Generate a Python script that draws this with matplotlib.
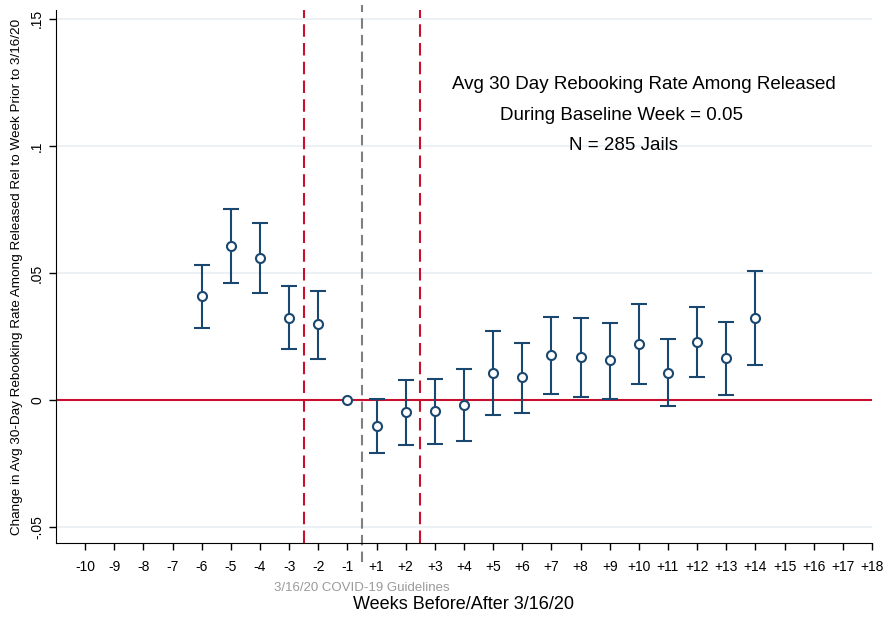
import numpy as np
import matplotlib
matplotlib.use("Agg")
import matplotlib.pyplot as plt

plt.rcParams['font.family'] = ['Liberation Sans', 'DejaVu Sans']

# Event-study estimates (week relative to 3/16/20)
weeks = ["-10", "-9", "-8", "-7", "-6", "-5", "-4", "-3", "-2", "-1",
         "+1", "+2", "+3", "+4", "+5", "+6", "+7", "+8", "+9", "+10",
         "+11", "+12", "+13", "+14", "+15", "+16", "+17", "+18"]
est_weeks = ["-6", "-5", "-4", "-3", "-2", "-1",
             "+1", "+2", "+3", "+4", "+5", "+6", "+7", "+8", "+9", "+10",
             "+11", "+12", "+13", "+14"]
coef = [0.0409, 0.0606, 0.0559, 0.0322, 0.0297, 0.0,
        -0.0102, -0.0047, -0.0043, -0.0020, 0.0108, 0.0089, 0.0175, 0.0169,
        0.0156, 0.0220, 0.0107, 0.0228, 0.0165, 0.0323]
ci_low = [0.0283, 0.0461, 0.0421, 0.0201, 0.0163, 0.0,
          -0.0207, -0.0179, -0.0173, -0.0162, -0.0059, -0.0053, 0.0022, 0.0013,
          0.0004, 0.0062, -0.0024, 0.0092, 0.0020, 0.0138]
ci_high = [0.0533, 0.0752, 0.0697, 0.0448, 0.0430, 0.0,
           0.0002, 0.0080, 0.0084, 0.0120, 0.0273, 0.0226, 0.0326, 0.0322,
           0.0302, 0.0378, 0.0238, 0.0364, 0.0305, 0.0508]

yticks = [-0.05, 0, 0.05, 0.1, 0.15]
ytick_labels = ["-.05", "0", ".05", ".1", ".15"]

NAVY = "#1a476f"
RED = "#c8102e"
GRID = "#e8eff2"

fig = plt.figure(figsize=(8.86, 6.22), dpi=100)
ax = fig.add_axes([0.0632, 0.127, 0.921, 0.857])

pos = np.array([weeks.index(w) for w in est_weeks])
coef = np.array(coef)
err = np.array([coef - np.array(ci_low), np.array(ci_high) - coef])
has_ci = err.sum(axis=0) > 0

ymin, ymax = -0.0563, 0.1535

for y in yticks:
    if y != 0:
        ax.axhline(y, color=GRID, lw=1.2, zorder=0)

ax.axhline(0, color=RED, lw=1.5, zorder=1)
covid_x = weeks.index("-1") + 0.5
# guideline line runs down past the axis into the tick label area
ax.plot([covid_x, covid_x], [-0.0637, 0.1555], color="#7f7f7f", lw=1.5,
        ls=(0, (5, 3)), zorder=1, clip_on=False)
ax.axvline(weeks.index("-3") + 0.5, color=RED, lw=1.5, ls=(0, (6, 3)), zorder=1)
ax.axvline(weeks.index("+2") + 0.5, color=RED, lw=1.5, ls=(0, (6, 3)), zorder=1)

ax.errorbar(pos[has_ci], coef[has_ci], yerr=err[:, has_ci], fmt="none",
            ecolor=NAVY, elinewidth=1.5, capsize=5.5, capthick=1.5, zorder=3)
ax.plot(pos, coef, "o", ms=6.5, mfc="white", mec=NAVY, mew=1.5, zorder=4)

ax.set_xlim(-1, 27)
ax.set_ylim(ymin, ymax)
ax.set_xticks(range(len(weeks)))
ax.set_xticklabels(weeks, fontsize=10)
ax.set_yticks(yticks)
ax.set_yticklabels(ytick_labels, fontsize=10, rotation=90, va="center")
ax.tick_params(axis="both", length=5, width=1, color="black")
ax.tick_params(axis="x", pad=7)
for s in ["top", "right"]:
    ax.spines[s].set_visible(False)

ax.set_ylabel("Change in Avg 30-Day Rebooking Rate Among Released Rel to Week Prior to 3/16/20",
              fontsize=9.7, labelpad=5)
ax.set_xlabel("Weeks Before/After 3/16/20", fontsize=13, labelpad=16)
ax.text(covid_x, -0.0742, "3/16/20 COVID-19 Guidelines", color="#9a9a9a",
        fontsize=9.5, ha="center", va="center")

ax.text(19.18, 0.1243, "Avg 30 Day Rebooking Rate Among Released", fontsize=13.5, ha="center", va="center")
ax.text(18.39, 0.1121, "During Baseline Week = 0.05", fontsize=13.5, ha="center", va="center")
ax.text(18.47, 0.1003, "N = 285 Jails", fontsize=13.5, ha="center", va="center")

fig.savefig("out.png", dpi=100)
